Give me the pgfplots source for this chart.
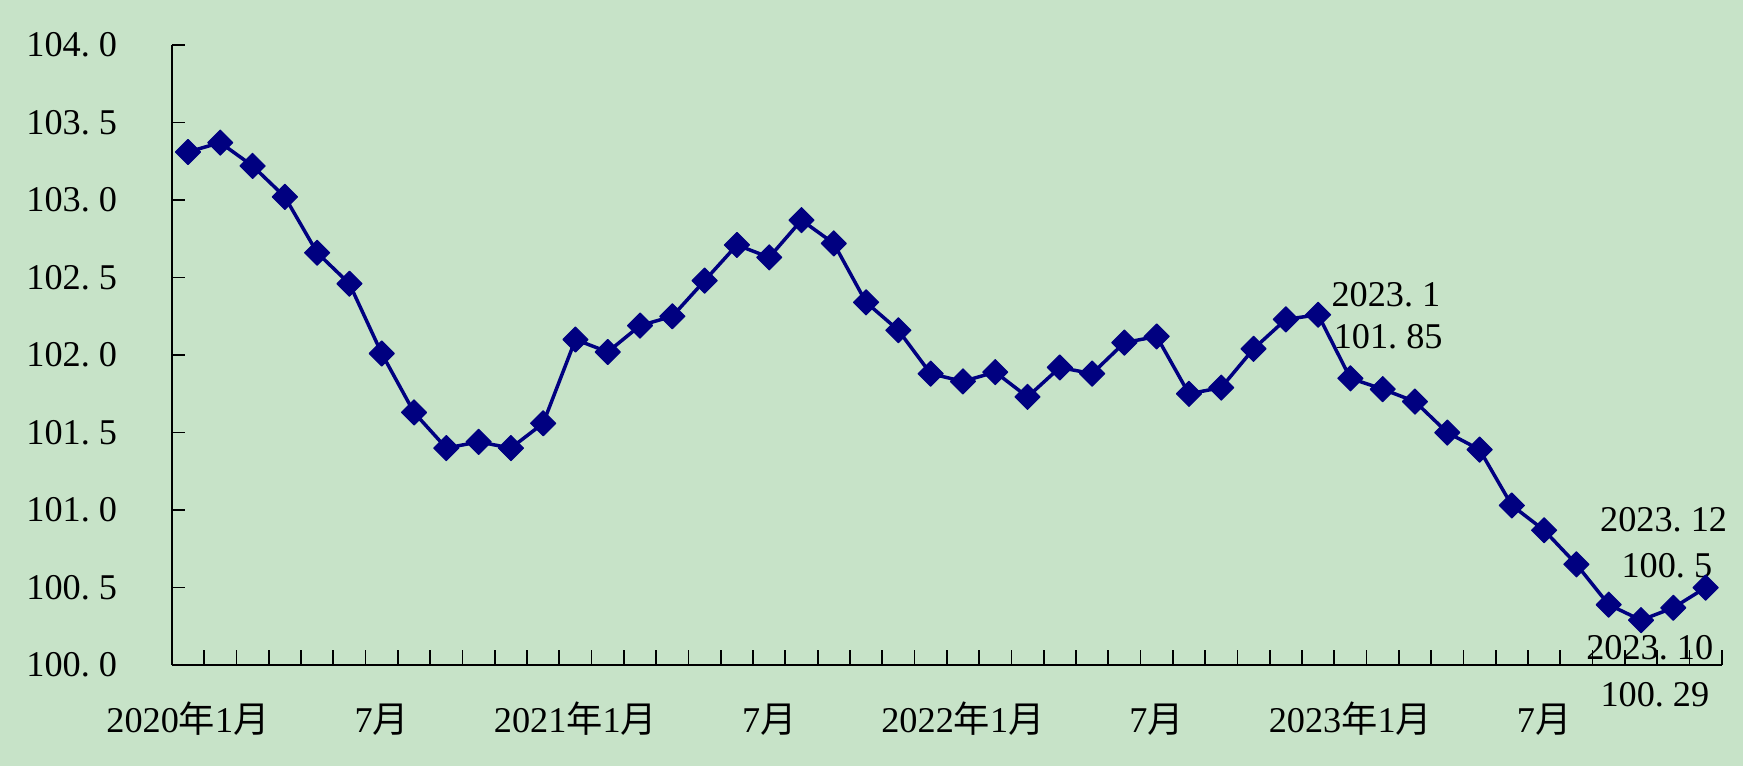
\documentclass[border=0pt]{standalone}
\usepackage{pgfplots}
\pgfplotsset{compat=1.18}
\usepackage{fontspec}
\setmainfont{Liberation Serif}
\newfontfamily\cjk{Noto Sans CJK SC}
\definecolor{bg}{RGB}{199,227,200}
\definecolor{navyline}{RGB}{0,0,128}
\pgfplotstableread{
x y
1 103.31
2 103.37
3 103.22
4 103.02
5 102.66
6 102.46
7 102.01
8 101.63
9 101.40
10 101.44
11 101.40
12 101.56
13 102.10
14 102.02
15 102.19
16 102.25
17 102.48
18 102.71
19 102.63
20 102.87
21 102.72
22 102.34
23 102.16
24 101.88
25 101.83
26 101.89
27 101.73
28 101.92
29 101.88
30 102.08
31 102.12
32 101.75
33 101.79
34 102.04
35 102.23
36 102.26
37 101.85
38 101.78
39 101.70
40 101.50
41 101.39
42 101.03
43 100.87
44 100.65
45 100.39
46 100.29
47 100.37
48 100.50
}\cpi
\begin{document}
\fontsize{10.4pt}{12pt}\selectfont
\begin{tikzpicture}
\fill[bg] (-49.3pt,-29pt) rectangle (450.7pt,190.8pt);
\useasboundingbox (-49.3pt,-29pt) rectangle (450.7pt,190.8pt);
\begin{axis}[
  at={(0,0)}, anchor=south west,
  scale only axis, width=444.6pt, height=177.9pt,
  xmin=0.5, xmax=48.5, ymin=100, ymax=104,
  axis lines=left, axis line style={-, black, line width=0.5pt},
  clip=false,
  tick align=inside,
  xtick={1,7,13,19,25,31,37,43},
  xticklabels={2020{\cjk 年}1{\cjk 月},7{\cjk 月},2021{\cjk 年}1{\cjk 月},7{\cjk 月},2022{\cjk 年}1{\cjk 月},7{\cjk 月},2023{\cjk 年}1{\cjk 月},7{\cjk 月}},
  major x tick style={draw=none},
  minor xtick={1.5,2.5,...,48.5},
  minor tick length=4.3pt,
  minor x tick style={black, line width=0.5pt},
  ytick={100,100.5,...,104},
  yticklabels={100.\hspace{0.25em}0,100.\hspace{0.25em}5,101.\hspace{0.25em}0,101.\hspace{0.25em}5,102.\hspace{0.25em}0,102.\hspace{0.25em}5,103.\hspace{0.25em}0,103.\hspace{0.25em}5,104.\hspace{0.25em}0},
  major tick length=3.8pt,
  major y tick style={black, line width=0.5pt},
  yticklabel style={anchor=east, inner sep=0pt, xshift=-15.5pt, font=\fontsize{10.4pt}{12pt}\selectfont},
  xticklabel style={anchor=base, inner sep=0pt, yshift=-19.2pt, font=\fontsize{10.4pt}{12pt}\selectfont},
  every axis plot/.append style={line join=round},
]
\addplot[navyline, line width=1pt, mark=square*, mark size=2.55pt,
  mark options={rotate=45, solid, fill=navyline, draw=navyline, line width=0.3pt}]
  table[x=x, y=y] {\cpi};
\node[font=\fontsize{10.4pt}{12pt}\selectfont] at (axis cs:38.1,102.39) {2023.\hspace{0.25em}1};
\node[font=\fontsize{10.4pt}{12pt}\selectfont] at (axis cs:38.17,102.12) {101.\hspace{0.25em}85};
\node[font=\fontsize{10.4pt}{12pt}\selectfont] at (axis cs:46.7,100.935) {2023.\hspace{0.25em}12};
\node[font=\fontsize{10.4pt}{12pt}\selectfont] at (axis cs:46.8,100.64) {100.\hspace{0.25em}5};
\node[font=\fontsize{10.4pt}{12pt}\selectfont] at (axis cs:46.27,100.11) {2023.\hspace{0.25em}10};
\node[font=\fontsize{10.4pt}{12pt}\selectfont] at (axis cs:46.43,99.81) {100.\hspace{0.25em}29};
\end{axis}
\end{tikzpicture}
\end{document}
